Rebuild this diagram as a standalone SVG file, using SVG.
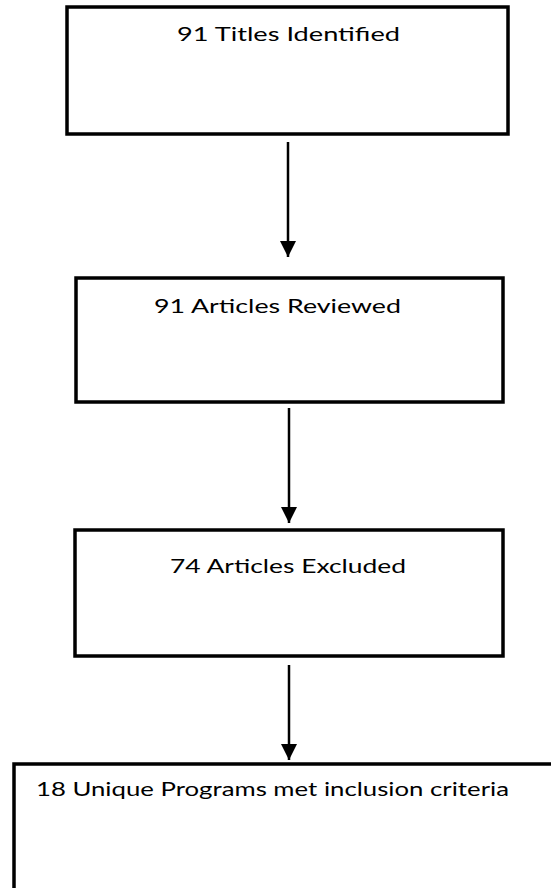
<svg xmlns="http://www.w3.org/2000/svg" width="551" height="888" viewBox="0 0 551 888">
<defs>
<style>
.box{fill:#fff;stroke:#000;stroke-width:3.5}
.lbl{font-family:Lato,"Open Sans","Liberation Sans",sans-serif;font-size:19.5px;fill:#000}
.conn{stroke:#000;stroke-width:2.5;fill:none}
</style>
<marker id="ah" viewBox="0 0 10 10" refX="10" refY="5" markerUnits="userSpaceOnUse" markerWidth="16" markerHeight="16" orient="auto">
<path d="M0,0 L10,5 L0,10 Z" fill="#000"/>
</marker>
</defs>
<rect width="551" height="888" fill="#fff"/>
<g id="n1">
<rect class="box" x="67" y="7" width="441" height="127"/>
<text class="lbl" x="177" y="41" textLength="223" lengthAdjust="spacingAndGlyphs">91 Titles Identified</text>
</g>
<g id="n2">
<rect class="box" x="76" y="278" width="427" height="124"/>
<text class="lbl" x="154" y="313" textLength="247" lengthAdjust="spacingAndGlyphs">91 Articles Reviewed</text>
</g>
<g id="n3">
<rect class="box" x="75" y="530" width="428" height="126"/>
<text class="lbl" x="170" y="573" textLength="236" lengthAdjust="spacingAndGlyphs">74 Articles Excluded</text>
</g>
<g id="n4">
<rect class="box" x="14" y="764" width="560" height="140"/>
<text class="lbl" x="36" y="796" textLength="473" lengthAdjust="spacingAndGlyphs">18 Unique Programs met inclusion criteria</text>
</g>
<g id="connectors">
<line class="conn" x1="288" y1="142" x2="288" y2="257" marker-end="url(#ah)"/>
<line class="conn" x1="289" y1="408" x2="289" y2="523" marker-end="url(#ah)"/>
<line class="conn" x1="289" y1="665" x2="289" y2="760" marker-end="url(#ah)"/>
</g>
</svg>
